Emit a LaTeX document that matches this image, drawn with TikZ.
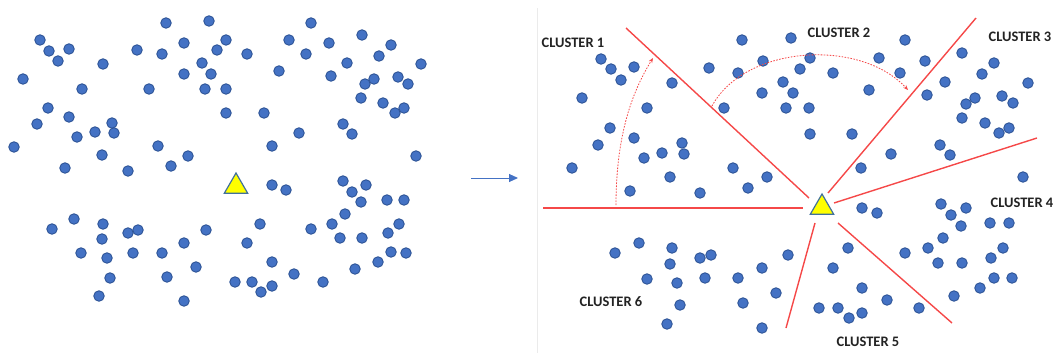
\documentclass[tikz,border=0pt]{standalone}
\usepackage{fontspec}
\newfontfamily\labelfont{Carlito}
\usetikzlibrary{shapes.geometric,arrows.meta}
\definecolor{dotfill}{RGB}{68,114,196}
\definecolor{dotedge}{RGB}{47,85,151}
\definecolor{splitred}{RGB}{245,72,72}
\definecolor{labelgray}{RGB}{35,35,35}
\definecolor{triedge}{RGB}{65,113,156}
\definecolor{triyellow}{RGB}{255,255,0}
\begin{document}
\begin{tikzpicture}[x=1pt,y=-1pt,
  dot/.style={circle,fill=dotfill,draw=dotedge,line width=0.9pt,minimum size=10.5pt,inner sep=0pt},
  centroid/.style={regular polygon,regular polygon sides=3,fill=triyellow,draw=triedge,line width=1.2pt,minimum size=27pt,inner sep=0pt},
  clabel/.style={font=\labelfont\bfseries\fontsize{14.5}{16}\selectfont,text=labelgray,inner sep=0pt},
  split/.style={draw=splitred,line width=1.4pt},
  sweep/.style={draw=splitred,line width=0.8pt,dash pattern=on 1.6pt off 1.4pt,-{Stealth[length=5pt,width=4pt]}},
  flow/.style={draw=dotfill,line width=1pt,-{Triangle[length=9pt,width=8pt]}}]
\useasboundingbox (0,0) rectangle (1055,353);

% left panel: unlabelled points
\foreach \x/\y [count=\i] in {
 40/40,49/51,69/49,58/61,137/50,103/64,23/79,82/89,149/89,48/108,69/117,37/124,112/123,95/132,114/133,77/137,14/147,102/155,65/168,128/171,
 166/23,209/21,184/43,226/40,217/50,162/54,247/54,202/63,184/74,211/74,279/71,205/89,226/89,226/113,264/113,158/146,272/146,188/156,171/166,
 311/23,289/40,329/43,362/35,391/45,306/54,379/56,347/63,421/64,331/76,365/84,374/79,398/77,408/84,361/98,383/103,395/113,404/108,299/133,343/124,352/134,416/156,
 74/219,52/229,103/224,102/239,128/233,138/230,81/253,107/258,133/253,110/278,99/296,
 272/185,286/190,206/230,184/243,162/253,260/224,247/243,196/267,272/262,167/277,235/282,252/282,261/292,272/286,184/301,
 343/181,366/185,352/192,361/202,387/200,404/200,345/214,332/224,311/229,340/238,362/238,388/233,399/224,391/252,406/253,378/262,355/269,294/274,323/282}
  \node[dot] (l\i) at (\x,\y) {};
\node[centroid] (tl) at (236,186.5) {};

% arrow between the panels
\coordinate (fs) at (471,178);
\coordinate (fe) at (518,178);
\draw[flow] (fs) -- (fe);

% right panel frame edge
\draw[black!8,line width=0.8pt] (537,8) -- (537,353);

% right panel: clustered points
\foreach \x/\y [count=\i] in {
 601/59,611/69,634/67,621/80,709/68,672/83,582/98,647/108,610/128,634/138,598/145,682/143,684/154,662/153,644/158,572/168,670/177,
 742/40,791/38,738/73,763/61,810/58,800/69,833/73,879/58,783/82,793/93,762/93,869/90,724/108,786/108,809/108,810/134,852/134,733/168,767/177,861/168,
 905/40,925/61,962/53,994/63,900/73,982/74,945/82,1028/83,927/95,975/98,966/104,1002/96,1013/103,962/118,985/123,1009/128,999/133,940/145,950/155,891/154,1023/177,
 630/191,700/193,615/253,639/243,672/248,670/264,700/258,711/255,647/279,677/283,705/278,680/305,667/324,
 748/188,862/208,877/213,848/248,788/255,762/268,833/268,738/278,862/288,776/293,743/303,819/308,838/308,849/318,862/313,762/328,
 941/204,966/208,951/215,961/226,990/223,1009/223,943/238,928/248,905/253,1003/248,938/263,962/263,991/258,994/278,1012/278,980/288,954/296,887/300,919/308}
  \node[dot] (r\i) at (\x,\y) {};
\node[centroid] (tr) at (822,207.5) {};

% cluster boundaries radiating from the centroid
\coordinate (b1o) at (626,28);   \coordinate (b1i) at (809,198);
\coordinate (b2o) at (543,208);  \coordinate (b2i) at (803,208);
\coordinate (b3o) at (976,18);   \coordinate (b3i) at (828,193);
\coordinate (b4o) at (1037,138); \coordinate (b4i) at (834,203);
\coordinate (b5o) at (952,323);  \coordinate (b5i) at (838,223);
\coordinate (b6o) at (786,328);  \coordinate (b6i) at (815,223);
\foreach \k in {1,...,6} \draw[split] (b\k o) -- (b\k i);

% sweep arrows
\coordinate (s1a) at (616,205); \coordinate (s1b) at (653,58);
\draw[sweep] (s1a) .. controls (616,140) and (630,95) .. (s1b);
\coordinate (s2a) at (712,106); \coordinate (s2b) at (908,90);
\draw[sweep] (s2a) .. controls (745,45) and (860,38) .. (s2b);

% cluster labels
\node[clabel] (c1) at (573,43) {CLUSTER 1};
\node[clabel] (c2) at (839,33) {CLUSTER 2};
\node[clabel] (c3) at (1020,37) {CLUSTER 3};
\node[clabel] (c4) at (1022,203) {CLUSTER 4};
\node[clabel] (c5) at (868,342) {CLUSTER 5};
\node[clabel] (c6) at (611,302) {CLUSTER 6};
\end{tikzpicture}
\end{document}
